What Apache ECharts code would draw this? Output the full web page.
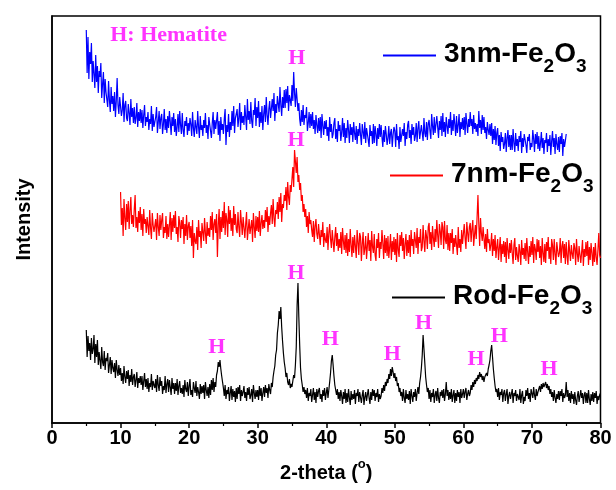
<!DOCTYPE html>
<html><head><meta charset="utf-8">
<script src="https://cdn.jsdelivr.net/npm/echarts@6/dist/echarts.min.js"></script>
<style>html,body{margin:0;padding:0;background:#fff}#c{width:616px;height:490px}</style>
</head><body><div id="c"></div>
<script>
// 2-theta sampling (deg)
const step = 0.125;
const blueStart = 5, redStart = 10, rodStart = 5;
const xTicks = [0,10,20,30,40,50,60,70,80];

// 3nm-Fe2O3 intensity (arb. units), 5..75 deg, 8 points per degree
const blue3nm = [
393,350,386,344,371,359,380,341, 362,349,335,368,341,357,330,352,
346,360,325,339,351,320,344,331, 329,316,342,323,311,336,319,327,
312,331,306,322,345,318,309,326, 324,307,313,330,301,318,322,305,
302,319,310,298,324,306,315,300, 316,299,305,320,296,311,302,314,
300,313,295,308,318,297,306,301, 311,293,304,299,317,292,309,296,
297,306,316,290,301,312,294,305, 309,289,299,314,293,304,290,307,
295,312,301,288,306,297,310,291, 304,287,296,309,291,312,298,289,
310,293,286,302,297,306,288,300, 292,305,299,287,311,295,286,303,
301,289,312,296,285,307,293,298, 287,303,295,310,290,298,284,306,
308,292,285,300,311,289,303,294, 296,311,288,302,282,306,293,299,
289,304,314,278,298,291,309,286, 301,293,312,297,317,290,305,309,
314,296,305,320,293,311,300,307, 298,318,306,293,324,303,312,299,
321,302,295,313,308,325,297,316, 305,322,296,311,300,317,293,309,
318,301,326,308,298,314,322,305, 306,324,312,330,302,319,310,327,
329,311,336,318,307,326,315,333, 315,334,320,337,312,328,323,317,
338,322,351,330,316,335,324,312, 320,304,297,313,301,318,298,308,
305,316,292,300,311,295,309,297, 311,294,303,289,308,298,290,305,
292,306,285,309,297,288,302,294, 303,287,296,282,306,291,299,285,
289,300,305,284,294,281,302,292, 298,282,291,305,286,300,280,295,
285,303,293,280,299,288,296,281, 301,290,283,297,279,294,287,300,
288,278,299,291,284,301,280,295, 294,283,276,298,287,292,279,299,
280,297,289,277,295,284,299,286, 298,286,276,293,281,297,289,278,
285,297,279,290,294,276,288,296, 292,276,299,283,287,274,296,281,
279,294,287,300,277,291,284,298, 302,285,293,279,299,288,296,282,
287,300,281,295,302,284,291,298, 296,282,305,290,286,301,283,299,
303,292,284,309,297,288,306,290, 289,307,296,285,302,293,307,287,
310,291,301,286,306,297,289,304, 295,311,288,303,292,309,299,287,
307,290,298,309,286,301,294,305, 293,306,288,310,299,290,304,296,
311,297,304,289,308,294,300,291, 299,287,312,295,303,289,308,293,
306,290,296,284,301,293,288,299, 287,300,279,294,283,297,278,290,
295,277,288,272,291,281,286,274, 279,290,271,285,293,276,288,273,
288,273,294,280,271,290,277,284, 272,287,281,292,270,285,276,289,
291,278,270,286,282,289,273,280, 276,293,284,271,289,279,291,274,
287,272,280,291,275,285,269,283, 280,290,271,284,277,288,268,282,
292,276,285,269,289,279,273,286, 271,287,279,290,267,284,276,282,
289];

// 7nm-Fe2O3 intensity, 10..80 deg, 8 points per degree
const red7nm = [
231,198,215,187,224,205,193,219, 201,222,194,213,226,199,208,196,
214,228,195,206,191,212,200,216, 193,209,187,214,199,204,190,206,
207,188,213,195,184,210,198,191, 190,204,183,210,196,187,208,193,
203,210,185,196,190,207,184,199, 186,198,211,183,205,191,208,195,
212,189,196,181,207,200,185,203, 194,206,179,199,187,208,183,197,
201,185,197,177,203,165,190,182, 179,196,173,203,186,192,175,200,
198,182,205,190,179,201,187,195, 186,207,193,211,183,199,204,190,
209,166,198,214,184,206,191,212, 195,221,188,210,203,186,217,199,
213,192,205,187,217,198,209,194, 190,211,196,186,213,201,188,206,
207,185,199,211,183,194,204,189, 188,203,181,210,196,185,207,192,
206,191,212,187,200,208,194,203, 195,213,201,216,191,207,198,210,
218,199,224,205,196,213,209,221, 204,226,211,230,201,219,215,228,
222,236,213,241,226,218,238,231, 244,256,236,273,262,250,266,241,
248,233,240,222,228,211,219,206, 214,196,207,190,211,199,203,193,
186,202,181,197,204,189,184,199, 199,178,193,186,201,176,190,183,
180,196,173,190,199,184,175,193, 194,171,186,196,177,190,172,184,
175,191,169,195,182,173,188,170, 190,167,184,171,194,178,166,186,
170,188,177,165,193,181,168,190, 186,162,179,191,168,174,187,164,
166,190,172,183,162,192,176,170, 189,168,162,184,175,190,165,181,
174,193,180,164,188,170,185,167, 187,165,176,189,163,182,171,186,
168,184,161,190,173,166,188,177, 191,172,185,164,179,189,167,183,
170,188,166,193,177,184,169,191, 192,175,195,169,186,180,194,172,
176,198,182,171,193,187,174,196, 200,179,191,173,197,185,176,194,
181,203,188,175,199,192,178,201, 196,174,202,183,179,198,173,190,
172,190,180,194,169,185,176,188, 189,168,196,175,184,171,193,179,
178,199,185,174,201,190,181,196, 200,181,194,203,177,188,198,184,
186,228,199,177,205,190,182,196, 198,174,189,171,194,180,184,172,
178,190,167,184,172,188,165,176, 184,163,175,186,161,179,169,182,
166,181,160,185,173,164,180,170, 183,170,159,178,185,163,176,167,
161,179,172,158,183,168,175,164, 180,162,185,171,159,177,166,182,
168,186,160,179,174,163,184,171, 183,165,177,158,185,170,161,179,
160,181,172,186,164,176,159,184, 178,163,184,169,158,181,173,166,
170,185,160,177,182,165,179,159, 181,167,158,183,172,162,178,169,
164,180,175,158,184,169,161,177, 179,160,171,183,157,174,166,181,
167,182,158,176,163,180,170,157, 176,161,180,166,158,173,190,168,
165];

// Rod-Fe2O3 intensity, 5..80 deg, 8 points per degree
const rodFe = [
93,66,87,72,80,63,85,69, 74,88,60,79,66,83,58,71,
69,54,76,61,57,72,53,65, 62,70,50,58,66,49,63,55,
51,60,45,63,53,47,58,48, 55,42,50,39,57,46,40,52,
44,53,37,48,41,54,38,46, 49,36,43,51,35,45,40,47,
38,47,33,42,50,36,44,34, 45,31,40,36,49,33,42,38,
35,44,31,48,38,32,46,37, 42,29,37,33,47,30,39,44,
31,43,36,28,45,34,40,29, 40,32,44,28,37,42,30,35,
29,38,26,43,34,31,41,27, 37,44,28,33,26,41,35,30,
42,27,36,31,24,39,29,37, 30,38,24,41,33,27,36,25,
39,28,43,33,45,31,41,36, 48,52,61,56,63,54,47,41,
35,27,38,24,33,29,36,22, 30,37,23,34,26,32,21,35,
24,36,29,38,22,33,27,31, 37,25,31,22,35,28,36,24,
28,34,21,38,30,24,33,26, 33,23,37,27,35,22,30,36,
26,38,30,35,25,39,33,29, 40,36,46,52,57,68,73,90,
98,112,104,116,96,82,70,61, 55,46,50,41,38,44,35,39,
36,42,48,45,58,76,118,140, 106,78,55,44,38,31,36,29,
33,25,35,22,30,27,34,21, 28,35,23,31,20,34,26,32,
35,24,29,21,33,27,35,23, 30,36,25,33,41,50,62,68,
58,47,38,33,28,34,24,31, 22,33,27,19,31,24,34,20,
30,21,34,25,18,32,23,29, 24,33,19,30,27,34,21,31,
32,20,28,33,18,26,31,22, 21,34,25,19,31,23,34,27,
33,22,30,26,34,21,29,24, 27,35,30,38,32,41,37,44,
40,49,44,54,47,56,51,45, 50,42,46,37,40,31,35,27,
31,22,34,25,20,33,24,29, 23,32,19,34,27,21,31,26,
34,22,30,36,29,40,46,55, 68,88,74,60,46,38,31,35,
24,33,21,30,26,34,20,28, 32,22,35,25,20,31,27,33,
25,34,22,29,41,27,33,23, 31,24,34,21,28,33,20,30,
22,33,26,31,20,34,25,29, 34,25,31,35,23,29,33,27,
30,38,33,41,36,43,39,45, 42,48,44,51,46,49,43,47,
41,46,44,50,47,54,58,63, 72,78,66,54,45,37,31,34,
26,35,23,31,28,34,21,30, 33,22,29,34,19,27,31,24,
24,34,20,30,27,33,22,29, 31,23,34,20,28,32,19,26,
22,33,27,35,24,30,21,34, 32,25,36,28,23,34,27,31,
29,37,31,39,34,40,36,38, 41,35,39,33,37,29,34,26,
31,22,33,25,20,29,24,32, 23,32,27,34,21,30,25,28,
41,26,33,22,30,20,32,24, 29,19,31,23,18,27,32,21,
22,33,25,30,19,28,31,20, 30,20,33,24,18,29,22,31,
21,30,25,32,19,27,23,28,
30];

// "H" (hematite) annotation anchors: 2-theta and intensity
const hX = [35.7, 35.6, 24.05, 35.6, 40.6, 49.65, 54.2, 61.85, 65.25, 72.5];
const hY = [365, 283, 76, 150, 84, 69, 100, 64, 87, 54];
const hematiteNote = {x: 17.0, y: 388, text: 'H: Hematite'};

function toPairs(start, vals){ return vals.map((v,i)=>[start + i*step, v]); }

const sansB = {fontFamily:'Liberation Sans', fontWeight:'bold', color:'#000'};
const legRich = {
  a: Object.assign({fontSize:28, lineHeight:30, padding:[5,0,0,0], verticalAlign:'top'}, sansB),
  s: Object.assign({fontSize:19, padding:[22,0,0,0], verticalAlign:'top'}, sansB)
};
function legend(name, txt, left, top){
  return {data:[name], left:left, top:top, icon:'rect', itemWidth:53, itemHeight:2, selectedMode:false,
    padding:0, formatter:()=>txt, textStyle:{rich:legRich, padding:[0,0,0,3]}};
}

const chart = echarts.init(document.getElementById('c'), null, {renderer:'canvas'});
chart.setOption({
  animation:false,
  grid:{left:52, right:15.5, top:16, bottom:67, show:true, borderColor:'#000', borderWidth:1.5},
  xAxis:{type:'value', min:0, max:80, interval:10,
    axisLine:{lineStyle:{color:'#000', width:1.5}},
    axisTick:{inside:false, length:5, lineStyle:{color:'#000', width:1.5}},
    minorTick:{show:true, splitNumber:2, length:3, lineStyle:{color:'#000', width:1.2}},
    splitLine:{show:false},
    axisLabel:{margin:5, fontSize:20, fontWeight:'bold', fontFamily:'Liberation Sans', color:'#000',
      formatter:(v)=> xTicks.includes(v) ? String(v) : ''},
    name:'{t|2-theta (}{o|o}{t|)}', nameLocation:'middle', nameGap:35,
    nameTextStyle:{rich:{
      t:Object.assign({fontSize:20, padding:[5,0,0,0], verticalAlign:'top'}, sansB),
      o:Object.assign({fontSize:13, verticalAlign:'top'}, sansB)}}
  },
  yAxis:{type:'value', min:0, max:407,
    axisLine:{show:true, lineStyle:{color:'#000', width:1.5}},
    axisTick:{show:false}, axisLabel:{show:false}, splitLine:{show:false},
    name:'Intensity', nameLocation:'middle', nameGap:18,
    nameTextStyle:Object.assign({fontSize:20}, sansB)
  },
  legend:[
    legend('3nm', '{a|3nm-Fe}{s|2}{a|O}{s|3}', 383, 35),
    legend('7nm', '{a|7nm-Fe}{s|2}{a|O}{s|3}', 390, 155),
    legend('Rod', '{a|Rod-Fe}{s|2}{a|O}{s|3}', 392, 277)
  ],
  series:[
    {name:'3nm', type:'line', showSymbol:false, color:'#0000ff', lineStyle:{width:1.2}, data:toPairs(blueStart, blue3nm)},
    {name:'7nm', type:'line', showSymbol:false, color:'#ff0000', lineStyle:{width:1.2}, data:toPairs(redStart, red7nm)},
    {name:'Rod', type:'line', showSymbol:false, color:'#000000', lineStyle:{width:1.2}, data:toPairs(rodStart, rodFe)},
    {name:'H', type:'scatter', symbolSize:0, silent:true,
      data: hX.map((x,i)=>({value:[x, hY[i]], label:{formatter:'H'}})).concat([
        {value:[hematiteNote.x, hematiteNote.y], label:{formatter:hematiteNote.text}}]),
      label:{show:true, position:'inside', color:'#ff00ff', fontFamily:'Liberation Serif', fontWeight:'bold', fontSize:22}
    }
  ]
});
</script></body></html>
